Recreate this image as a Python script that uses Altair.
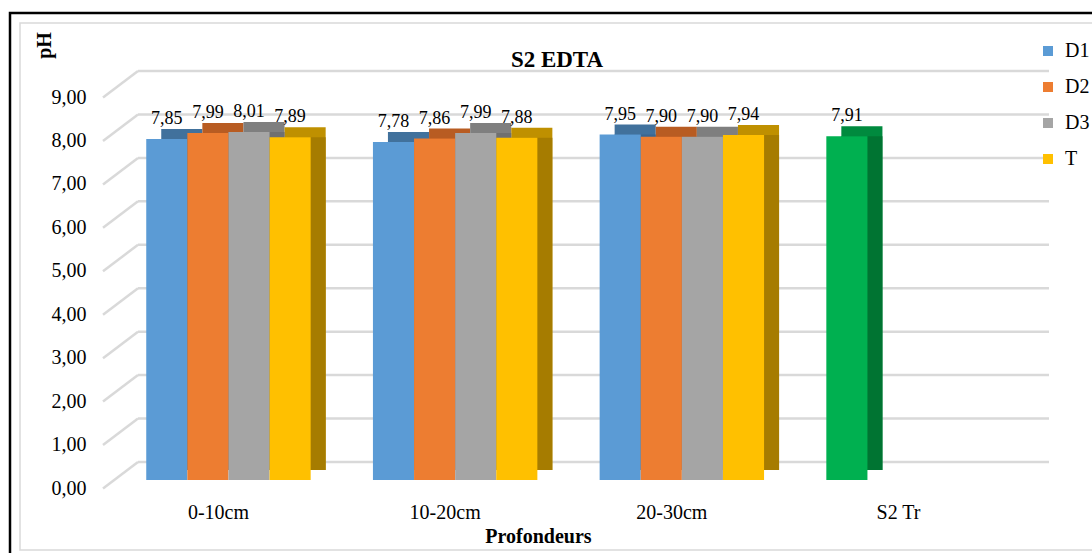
import altair as alt
import pandas as pd

# pH per depth and dose
categories = ["0-10cm", "10-20cm", "20-30cm", "S2 Tr"]
series = ["D1", "D2", "D3", "T"]
d1 = [7.85, 7.78, 7.95]
d2 = [7.99, 7.86, 7.90]
d3 = [8.01, 7.99, 7.90]
t = [7.89, 7.88, 7.94]
control_value = 7.91
y_ticks = [0, 1, 2, 3, 4, 5, 6, 7, 8, 9]

shades = ["D1", "D2", "D3", "T", "Tr"]
front = ["#5B9BD5", "#ED7D31", "#A5A5A5", "#FFC000", "#00B050"]
top = ["#41719C", "#B85C22", "#7F7F7F", "#BF9000", "#008A3E"]
side = ["#3A6690", "#A8521C", "#707070", "#A67C00", "#007432"]

rows = []
for i, cat in enumerate(categories[:3]):
    for s, vals in zip(series, [d1, d2, d3, t]):
        rows.append({"cat": cat, "series": s, "shade": s, "value": vals[i]})
rows.append({"cat": categories[3], "series": "D1", "shade": "Tr", "value": control_value})
df = pd.DataFrame(rows)
grid = pd.DataFrame({"v": y_ticks})
frame = pd.DataFrame({"a": [0]})

FONT = "Liberation Serif"
W, H = 937, 391
L, T = 100, 89
PAD_IN, PAD_OUT = 0.2747, 0.204
DX, DY = 15, 10
# width of one category band, used to shift the depth faces sideways
BAND = W / (len(categories) - PAD_IN + 2 * PAD_OUT) * (1 - PAD_IN)

x_enc = alt.X("cat:N", sort=categories,
              scale=alt.Scale(paddingInner=PAD_IN, paddingOuter=PAD_OUT),
              axis=alt.Axis(title="Profondeurs", labelFontSize=20, labelFont=FONT,
                            labelColor="#000", labelPadding=22, labelOffset=-10,
                            domain=False, ticks=False, labelAngle=0,
                            titleFont=FONT, titleFontSize=20, titleFontWeight="bold",
                            titleColor="#000", titleX=438, titleY=62,
                            titleBaseline="alphabetic"))

def offset_enc(shift):
    if shift:
        sc = alt.Scale(type="band", domain=series, range=[shift, BAND + shift],
                       paddingInner=0, paddingOuter=0)
    else:
        sc = alt.Scale(type="band", domain=series, paddingInner=0, paddingOuter=0)
    return alt.XOffset("series:N", sort=series, scale=sc)

y_scale = alt.Scale(domain=[0, 9], nice=False)
y_enc = alt.Y("value:Q", scale=y_scale,
              axis=alt.Axis(title="pH", values=y_ticks, grid=False, domain=False, ticks=False,
                            labelExpr="replace(format(datum.value, '.2f'), '.', ',')",
                            labelFont=FONT, labelFontSize=20, labelColor="#000",
                            labelPadding=14, labelOffset=8,
                            titleFont=FONT, titleFontSize=20, titleFontWeight="bold",
                            titleColor="#000", titleAngle=270, titleX=-56, titleY=-44,
                            titleAlign="center", titleBaseline="middle"))

def shade_color(rng, legend=None):
    return alt.Color("shade:N", scale=alt.Scale(domain=shades, range=rng), legend=legend)

# frame around the chart
outer = alt.Chart(frame).mark_rect(fillOpacity=0, stroke="#000", strokeWidth=2.5).encode(
    x=alt.value(10 - L), x2=alt.value(1200 - L), y=alt.value(13 - T), y2=alt.value(700 - T))
inner = alt.Chart(frame).mark_rect(fillOpacity=0, stroke="#D9D9D9", strokeWidth=1.5).encode(
    x=alt.value(20 - L), x2=alt.value(1200 - L), y=alt.value(23 - T), y2=alt.value(550 - T))
title = alt.Chart(frame).mark_text(
    text="S2 EDTA", font=FONT, fontSize=23, fontWeight="bold", color="#000",
    align="center", baseline="alphabetic").encode(x=alt.value(557 - L), y=alt.value(67 - T))

# back-wall gridlines and their diagonal floor connectors
back = alt.Chart(grid).mark_rule(color="#D9D9D9", strokeWidth=2.5, yOffset=-18, y2Offset=-18).encode(
    y=alt.Y("v:Q", scale=y_scale), y2="v:Q", x=alt.value(38), x2=alt.value(949))
diag = alt.Chart(grid).mark_rule(color="#D9D9D9", strokeWidth=2.5, yOffset=8.5, y2Offset=-18).encode(
    y=alt.Y("v:Q", scale=y_scale), y2="v:Q", x=alt.value(3), x2=alt.value(38))

base = alt.Chart(df)
top_face = base.mark_bar(yOffset=-DY, y2Offset=-DY).encode(
    x=x_enc, xOffset=offset_enc(DX), y=y_enc, y2=alt.datum(0), color=shade_color(top))
side_face = base.mark_bar(y2Offset=-DY).encode(
    x=x_enc, xOffset=offset_enc(DX), y=y_enc, y2=alt.datum(0), color=shade_color(side))
front_face = base.mark_bar().encode(
    x=x_enc, xOffset=offset_enc(0), y=y_enc, y2=alt.datum(0),
    color=shade_color(front, alt.Legend(title=None, values=series, orient="none",
                                        legendX=1038 - L, legendY=41 - T,
                                        symbolType="square", symbolSize=100,
                                        symbolStrokeWidth=0, labelFont=FONT,
                                        labelFontSize=20, labelColor="#000",
                                        rowPadding=16, labelOffset=7)))
labels = base.transform_calculate(
    label="replace(format(datum.value, '.2f'), '.', ',')"
).mark_text(font=FONT, fontSize=18, color="#000", baseline="alphabetic", dy=-15).encode(
    x=x_enc, xOffset=offset_enc(0), y=y_enc, text="label:N")

# front faces and their value labels share one offset scale
front_group = alt.layer(front_face, labels)

chart = alt.layer(outer, inner, title, back, diag, top_face, side_face, front_group).resolve_scale(
    color="independent", xOffset="independent"
).properties(
    width=W, height=H,
    autosize=alt.AutoSizeParams(type="none"),
    padding={"left": L, "top": T, "right": 1092 - L - W, "bottom": 553 - T - H},
    background="#ffffff",
).configure(font=FONT).configure_view(stroke=None)

chart.save("out.html", embed_options={"renderer": "svg", "actions": False})
